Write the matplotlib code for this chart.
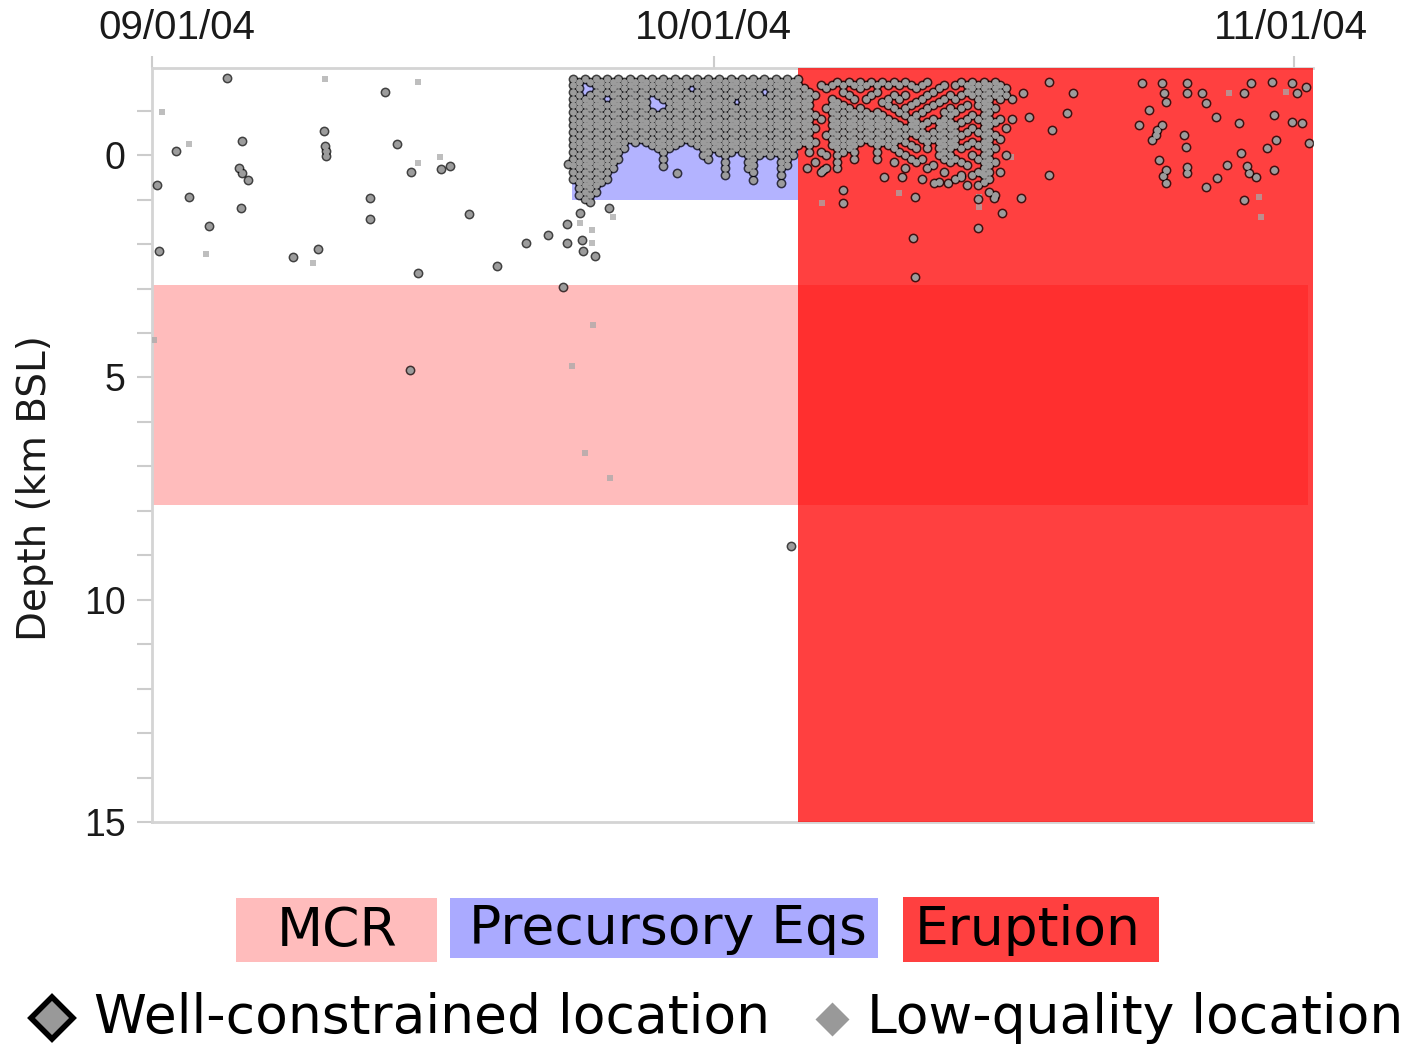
import matplotlib
matplotlib.use("Agg")
import matplotlib.pyplot as plt
from matplotlib.patches import Rectangle
from matplotlib.lines import Line2D

# ---------------- data (x = days since 2004-09-01, y = depth km BSL) ----------------
date_ticks = [0, 30, 61]
date_labels = ["09/01/04", "10/01/04", "11/01/04"]
depth_major = [0, 5, 10, 15]
depth_minor = list(range(-1, 16))

mcr_span = (0.0, 61.72)          # magma chamber region (days)
mcr_depth = (2.92, 7.87)
precursor_span = (22.42, 34.5)
precursor_depth = (-1.69, 1.01)
eruption_span = (34.5, 62.0)

# isolated well-constrained events
well_events = [
    (4.00, -1.73), (12.43, -1.42), (9.18, -0.54), (4.80, -0.31), (1.28, -0.09),
    (9.23, -0.20), (9.28, -0.09), (9.28, 0.02), (13.07, -0.25), (4.64, 0.29),
    (4.80, 0.40), (5.12, 0.56), (13.82, 0.38), (15.42, 0.31), (15.90, 0.25),
    (0.27, 0.67), (1.97, 0.94), (4.75, 1.19), (11.63, 0.97), (11.63, 1.44),
    (16.92, 1.33), (3.04, 1.60), (0.37, 2.16), (7.52, 2.29), (8.86, 2.11),
    (14.19, 2.65), (18.41, 2.50), (19.96, 1.98), (21.13, 1.80), (22.15, 1.55),
    (22.15, 1.98), (21.93, 2.97), (22.84, 1.30), (22.95, 1.91), (23.00, 2.16),
    (23.64, 2.27), (22.20, 0.20), (24.39, 1.19), (13.77, 4.83), (34.10, 8.79),
    (28.02, 0.40), (27.3, 0.25), (30.6, 0.45), (32.1, 0.55), (33.6, 0.62),
    # eruption, scattered
    (34.95, 0.29), (35.81, 0.34), (36.87, 0.79), (36.87, 1.08), (39.11, 0.49),
    (40.02, 0.49), (40.72, 0.94), (40.61, 1.87), (40.72, 2.74), (41.78, 0.63),
    (42.48, 0.63), (43.22, 0.49), (44.34, 0.40), (44.98, 0.97), (46.42, 0.97),
    (45.36, 1.30), (44.08, 1.64), (46.48, -1.39), (46.85, -0.85), (47.92, -1.64),
    (49.15, -1.39), (48.83, -0.94), (48.03, -0.56), (47.92, 0.45),
    # late October cluster
    (52.88, -1.62), (53.95, -1.62), (54.06, -1.39), (54.16, -1.19), (55.28, -1.62),
    (55.28, -1.39), (56.08, -1.39), (56.30, -1.17), (56.83, -0.85), (53.26, -1.01),
    (52.72, -0.67), (53.68, -0.56), (53.42, -0.34), (53.95, -0.67), (55.12, -0.45),
    (55.23, -0.18), (53.79, 0.11), (54.16, 0.34), (54.16, 0.63), (55.28, 0.27),
    (55.28, 0.40), (56.30, 0.72), (56.88, 0.52), (57.42, 0.22), (58.06, -0.72),
    (58.32, -1.39), (58.70, -1.62), (58.16, -0.04), (58.59, 0.40), (58.96, 0.49),
    (58.32, 1.01), (59.82, -1.64), (59.93, -0.90), (60.03, -0.34), (59.55, -0.16),
    (59.93, 0.34), (60.89, -1.62), (61.15, -1.39), (60.89, -0.74), (61.42, -0.72),
    (61.79, -0.27), (61.63, -1.53), (58.45, 0.25), (53.6, -0.45), (54.0, 0.48),
]

# low-quality events
low_events = [
    (9.23, -1.71), (14.19, -1.64), (0.53, -0.97), (1.97, -0.25), (14.19, 0.18),
    (15.37, 0.04), (2.88, 2.23), (8.59, 2.43), (22.84, 1.53), (23.48, 1.69),
    (23.48, 1.98), (0.11, 4.16), (23.53, 3.82), (22.41, 4.74), (23.11, 6.70),
    (24.44, 7.26), (24.60, 1.39), (35.75, 1.08), (39.91, 0.85), (44.18, 0.94),
    (44.18, 1.17), (45.89, 0.04), (57.52, -1.39), (59.12, 0.94), (59.23, 1.39),
    (60.57, -1.42),
]

# dense precursory swarm: event days and the depths recorded on each of them
swarm_days = [22.5, 22.8, 23.1, 23.4, 23.7, 24.0, 24.3, 24.6, 24.9, 25.2, 25.5,
              25.8, 26.1, 26.4, 26.7, 27.0, 27.3, 27.6, 27.9, 28.2, 28.5, 28.8,
              29.1, 29.4, 29.7, 30.0, 30.3, 30.6, 30.9, 31.2, 31.5, 31.8, 32.1,
              32.4, 32.7, 33.0, 33.3, 33.6, 33.9, 34.2, 34.5, 34.8, 35.1]
swarm_depths = [
    [-1.72, -1.57, -1.42, -1.27, -1.12, -0.97, -0.82, -0.67, -0.52, -0.37, -0.22, -0.07, 0.08, 0.23, 0.38, 0.53],
    [-1.65, -1.50, -1.35, -1.20, -1.05, -0.90, -0.75, -0.60, -0.45, -0.30, -0.15, 0.00, 0.15, 0.30, 0.45, 0.60, 0.75, 0.90],
    [-1.72, -1.27, -1.12, -0.97, -0.82, -0.67, -0.52, -0.37, -0.22, -0.07, 0.08, 0.23, 0.38, 0.53, 0.68, 0.83, 0.98],
    [-1.65, -1.35, -1.20, -1.05, -0.90, -0.75, -0.60, -0.45, -0.30, -0.15, 0.00, 0.15, 0.30, 0.45, 0.60, 0.75, 0.90, 1.05],
    [-1.72, -1.57, -1.42, -1.27, -1.12, -0.97, -0.82, -0.67, -0.52, -0.37, -0.22, -0.07, 0.08, 0.23, 0.38, 0.53, 0.68, 0.83],
    [-1.65, -1.50, -1.35, -1.20, -1.05, -0.90, -0.75, -0.60, -0.45, -0.30, -0.15, 0.00, 0.15, 0.30, 0.45, 0.60],
    [-1.72, -1.57, -1.42, -1.12, -0.97, -0.82, -0.67, -0.52, -0.37, -0.22, -0.07, 0.08, 0.23, 0.38, 0.53],
    [-1.65, -1.50, -1.35, -1.20, -1.05, -0.90, -0.75, -0.60, -0.45, -0.30, -0.15, 0.00, 0.15, 0.30],
    [-1.72, -1.57, -1.42, -1.27, -1.12, -0.97, -0.82, -0.67, -0.52, -0.37, -0.22, -0.07, 0.08],
    [-1.65, -1.50, -1.35, -1.20, -1.05, -0.90, -0.75, -0.60, -0.45, -0.30, -0.15],
    [-1.72, -1.57, -1.42, -1.27, -1.12, -0.97, -0.82, -0.67, -0.52, -0.37],
    [-1.65, -1.50, -1.35, -1.20, -1.05, -0.90, -0.75, -0.60, -0.45, -0.30],
    [-1.72, -1.57, -1.42, -1.27, -1.12, -0.97, -0.82, -0.67, -0.52, -0.37],
    [-1.65, -1.50, -1.35, -1.20, -1.05, -0.90, -0.75, -0.60, -0.45, -0.30],
    [-1.72, -1.57, -1.42, -0.97, -0.82, -0.67, -0.52, -0.37, -0.22],
    [-1.65, -1.50, -1.35, -0.90, -0.75, -0.60, -0.45, -0.30, -0.15],
    [-1.72, -1.57, -1.42, -1.27, -0.97, -0.82, -0.67, -0.52, -0.37, -0.22, -0.07, 0.08],
    [-1.65, -1.50, -1.35, -1.20, -1.05, -0.90, -0.75, -0.60, -0.45, -0.30, -0.15],
    [-1.72, -1.57, -1.42, -1.27, -1.12, -0.97, -0.82, -0.67, -0.52, -0.37, -0.22],
    [-1.65, -1.50, -1.35, -1.20, -1.05, -0.90, -0.75, -0.60, -0.45, -0.30],
    [-1.72, -1.57, -1.42, -1.27, -1.12, -0.97, -0.82, -0.67, -0.52, -0.37],
    [-1.65, -1.35, -1.20, -1.05, -0.90, -0.75, -0.60, -0.45, -0.30],
    [-1.72, -1.57, -1.42, -1.27, -1.12, -0.97, -0.82, -0.67, -0.52, -0.37, -0.22],
    [-1.65, -1.50, -1.35, -1.20, -1.05, -0.90, -0.75, -0.60, -0.45, -0.30, -0.15, 0.00],
    [-1.72, -1.57, -1.42, -1.27, -1.12, -0.97, -0.82, -0.67, -0.52, -0.37, -0.22, -0.07, 0.08],
    [-1.65, -1.50, -1.35, -1.20, -1.05, -0.90, -0.75, -0.60, -0.45, -0.30, -0.15],
    [-1.72, -1.57, -1.42, -1.27, -1.12, -0.97, -0.82, -0.67, -0.52, -0.37, -0.22, -0.07],
    [-1.65, -1.50, -1.35, -1.20, -1.05, -0.90, -0.75, -0.60, -0.45, -0.30, -0.15, 0.00, 0.15, 0.30],
    [-1.72, -1.57, -1.42, -1.27, -1.12, -0.97, -0.82, -0.67, -0.52, -0.37, -0.22, -0.07],
    [-1.65, -1.50, -1.35, -1.05, -0.90, -0.75, -0.60, -0.45, -0.30, -0.15],
    [-1.72, -1.57, -1.42, -1.27, -1.12, -0.97, -0.82, -0.67, -0.52, -0.37, -0.22, -0.07],
    [-1.65, -1.50, -1.35, -1.20, -1.05, -0.90, -0.75, -0.60, -0.45, -0.30, -0.15, 0.00, 0.15, 0.30],
    [-1.72, -1.57, -1.42, -1.27, -1.12, -0.97, -0.82, -0.67, -0.52, -0.37, -0.22, -0.07, 0.08, 0.23, 0.38],
    [-1.65, -1.50, -1.35, -1.20, -1.05, -0.90, -0.75, -0.60, -0.45, -0.30, -0.15, 0.00],
    [-1.72, -1.57, -1.27, -1.12, -0.97, -0.82, -0.67, -0.52, -0.37, -0.22, -0.07],
    [-1.65, -1.50, -1.35, -1.20, -1.05, -0.90, -0.75, -0.60, -0.45, -0.30, -0.15, 0.00],
    [-1.72, -1.57, -1.42, -1.27, -1.12, -0.97, -0.82, -0.67, -0.52, -0.37, -0.22, -0.07],
    [-1.65, -1.50, -1.35, -1.20, -1.05, -0.90, -0.75, -0.60, -0.45, -0.30, -0.15, 0.00, 0.15, 0.30, 0.45],
    [-1.72, -1.57, -1.42, -1.27, -1.12, -0.97, -0.82, -0.67, -0.52, -0.37, -0.22, -0.07, 0.08, 0.23],
    [-1.65, -1.50, -1.35, -1.20, -1.05, -0.90, -0.75, -0.60, -0.45, -0.30, -0.15, 0.00],
    [-1.72, -1.57, -1.42, -1.27, -1.12, -0.97, -0.82, -0.67, -0.52, -0.37, -0.22],
    [-1.50, -1.35, -1.20, -1.05, -0.90, -0.75, -0.60, -0.45, -0.30],
    [-1.42, -1.27, -1.12, -0.97, -0.82, -0.67, -0.52, -0.37, -0.22, -0.07],
]

# dense eruption swarm (early October)
erupt_days = [35.4, 35.7, 36.0, 36.3, 36.6, 36.9, 37.2, 37.5, 37.8, 38.1, 38.4,
              38.7, 39.0, 39.3, 39.6, 39.9, 40.2, 40.5, 40.8, 41.1, 41.4, 41.7,
              42.0, 42.3, 42.6, 42.9, 43.2, 43.5, 43.8, 44.1, 44.4, 44.7, 45.0,
              45.3, 45.6, 45.9]
erupt_depths = [
    [-1.35, -0.90, -0.60, -0.30, 0.15],
    [-1.57, -0.82, -0.07, 0.38],
    [-1.50, -1.05, -0.45, 0.00, 0.30],
    [-1.57, -1.27, -1.12, -0.97, -0.82, -0.67, -0.52, -0.37, -0.22],
    [-1.65, -1.20, -1.05, -0.90, -0.75, -0.60, -0.45, -0.30, -0.15, 0.00, 0.15, 0.30],
    [-1.57, -1.42, -1.12, -0.97, -0.82, -0.67, -0.52, -0.37, -0.22, -0.07],
    [-1.65, -1.35, -1.05, -0.90, -0.75, -0.60, -0.45, -0.30, -0.15],
    [-1.57, -1.27, -0.97, -0.82, -0.67, -0.52, -0.37, -0.22, -0.07, 0.08],
    [-1.65, -1.50, -1.05, -0.90, -0.75, -0.60, -0.45, -0.30],
    [-1.57, -1.27, -0.97, -0.82, -0.67, -0.52, -0.37],
    [-1.65, -1.35, -0.90, -0.75, -0.60, -0.45, -0.30],
    [-1.57, -1.42, -0.97, -0.82, -0.67, -0.52, -0.37, -0.22, -0.07, 0.08],
    [-1.65, -1.20, -0.90, -0.75, -0.60, -0.45, -0.30],
    [-1.57, -1.27, -1.12, -0.82, -0.67, -0.52, -0.37, -0.22],
    [-1.65, -1.35, -1.05, -0.75, -0.60, -0.45, -0.30, -0.15, 0.15],
    [-1.57, -1.27, -0.97, -0.67, -0.52, -0.37, -0.07],
    [-1.65, -1.35, -1.05, -0.90, -0.60, -0.45, -0.30, 0.00, 0.30],
    [-1.57, -1.12, -0.82, -0.67, -0.52, -0.22, 0.08],
    [-1.50, -1.20, -0.90, -0.75, -0.60, -0.45, -0.15, 0.15],
    [-1.57, -1.27, -0.97, -0.67, -0.52, -0.37, 0.08, 0.53],
    [-1.65, -1.35, -1.05, -0.75, -0.45, -0.30, -0.15, 0.30],
    [-1.42, -1.12, -0.82, -0.52, -0.37, 0.23],
    [-1.50, -1.20, -0.75, -0.60, -0.45, -0.30, -0.15, 0.00, 0.60],
    [-1.57, -1.27, -0.97, -0.82, -0.67, -0.52, -0.37, -0.22, -0.07, 0.08, 0.38],
    [-1.35, -1.05, -0.90, -0.75, -0.60, -0.45, -0.30, -0.15, 0.00, 0.15],
    [-1.57, -1.27, -0.97, -0.67, -0.52, -0.37, -0.22, 0.08, 0.53],
    [-1.65, -1.35, -1.05, -0.75, -0.45, -0.15, 0.15, 0.45],
    [-1.57, -1.42, -1.12, -0.82, -0.52, -0.22, 0.23, 0.68],
    [-1.65, -1.50, -1.35, -0.90, -0.60, -0.30, 0.00, 0.45],
    [-1.57, -1.42, -1.27, -1.12, -0.82, -0.52, -0.22, 0.08, 0.38, 0.68, 0.98],
    [-1.65, -1.50, -1.35, -1.20, -1.05, -0.90, -0.75, -0.60, -0.45, -0.30, -0.15, 0.00, 0.15, 0.30, 0.45, 0.60],
    [-1.57, -1.42, -1.27, -1.12, -0.97, -0.82, -0.67, -0.52, -0.37, -0.22, -0.07, 0.08, 0.23, 0.38, 0.53, 0.83],
    [-1.65, -1.50, -1.35, -1.05, -0.75, -0.45, -0.15, 0.15, 0.90],
    [-1.57, -1.42, -1.27, -0.82, -0.37, 0.38],
    [-1.50, -1.35, -0.60, 0.00],
    [-1.27, -0.82],
]

legend_regions = ["MCR", "Precursory Eqs", "Eruption"]
legend_markers = ["Well-constrained location", "Low-quality location"]

# ---------------- styling ----------------
PINK = "#ffbcbc"
BLUE = "#b3b3ff"
BLUE_LEG = "#aaaaff"
RED_LEG = "#ff4040"
EDGE_S = 50.0    # outer dark disc (points^2)
FILL_S = 24.0    # inner grey disc (points^2)

W, H = 1415, 1048
fig = plt.figure(figsize=(W / 100, H / 100), dpi=100)
ax = fig.add_axes([152 / W, 1 - 822 / H, (1313 - 152) / W, (822 - 68) / H])
ax.set_xlim(0, 61.99)
ax.set_ylim(15, -1.96)

# background regions
ax.add_patch(Rectangle((mcr_span[0], mcr_depth[0]), mcr_span[1] - mcr_span[0],
                       mcr_depth[1] - mcr_depth[0], fc=PINK, ec="none", zorder=1))
ax.add_patch(Rectangle((precursor_span[0], precursor_depth[0]),
                       precursor_span[1] - precursor_span[0],
                       precursor_depth[1] - precursor_depth[0], fc=BLUE, ec="none", zorder=1))
ax.add_patch(Rectangle((eruption_span[0], -1.96), eruption_span[1] - eruption_span[0],
                       15 + 1.96, fc=(1, 0, 0), alpha=0.75, ec="none", zorder=2.6))

# assemble well-constrained events
wx = [d for d, _ in well_events]
wy = [z for _, z in well_events]
for days, depths in ((swarm_days, swarm_depths), (erupt_days, erupt_depths)):
    for d, col in zip(days, depths):
        for z in col:
            wx.append(d)
            wy.append(z)

lx = [d for d, _ in low_events]
ly = [z for _, z in low_events]

ax.scatter(lx, ly, s=14, marker="s", c="#a8a8a8", alpha=0.75, linewidths=0, zorder=3)
ax.scatter(wx, wy, s=EDGE_S, marker="o", c="black", alpha=0.75, linewidths=0, zorder=4)
ax.scatter(wx, wy, s=FILL_S, marker="o", c="#9c9c9c", linewidths=0, zorder=5)

# axes styling
for side in ("left", "top", "bottom"):
    ax.spines[side].set_color("#d4d4d4")
    ax.spines[side].set_linewidth(2)
ax.spines["right"].set_visible(False)

ax.xaxis.tick_top()
ax.set_xticks(date_ticks)
ax.set_xticklabels([])
ax.tick_params(axis="x", which="both", length=9, width=1.5, color="#cccccc")
offsets = [25, 0, -4]
for d, lab, off in zip(date_ticks, date_labels, offsets):
    ax.annotate(lab, xy=(d, 1), xycoords=("data", "axes fraction"),
                xytext=(off * 0.72, 29), textcoords="offset points",
                ha="center", va="center", fontsize=29, family="Liberation Sans",
                color="#1a1a1a", annotation_clip=False)

ax.set_yticks(depth_major)
ax.set_yticks(depth_minor, minor=True)
ax.set_yticklabels([str(v) for v in depth_major], fontsize=27,
                   family="Liberation Sans", color="#1a1a1a")
ax.tick_params(axis="y", which="both", length=11, width=1.5, color="#cccccc", pad=8)
ax.set_ylabel("Depth (km BSL)", fontsize=28, family="DejaVu Sans", color="#1a1a1a")
ax.yaxis.set_label_coords((54 - 152) / 1161, 1 - (488 - 68) / 754)

# ---------------- legend (figure coordinates) ----------------
def fx(x):
    return x / W


def fy(y):
    return 1 - y / H


boxes = [(236, 437, 898, 962, PINK, 337), (450, 878, 898, 958, BLUE_LEG, 668),
         (903, 1159, 897, 962, RED_LEG, 1028)]
for (x0, x1, y0, y1, col, tx), lab in zip(boxes, legend_regions):
    fig.patches.append(Rectangle((fx(x0), fy(y1)), fx(x1) - fx(x0), fy(y0) - fy(y1),
                                 transform=fig.transFigure, fc=col, ec="none"))
    fig.text(fx(tx), fy((y0 + y1) / 2 + 1), lab, ha="center", va="center",
             fontsize=38.5, family="DejaVu Sans", color="black")

fig.add_artist(Line2D([fx(52)], [fy(1018)], transform=fig.transFigure, marker="D",
                      markersize=21, markerfacecolor="#999999", markeredgecolor="black",
                      markeredgewidth=4, linestyle="none"))
fig.text(fx(94), fy(1018), legend_markers[0], ha="left", va="center",
         fontsize=38.5, family="DejaVu Sans", color="black")
fig.add_artist(Line2D([fx(832)], [fy(1019)], transform=fig.transFigure, marker="D",
                      markersize=17, markerfacecolor="#999999", markeredgecolor="none",
                      linestyle="none"))
fig.text(fx(867), fy(1018), legend_markers[1], ha="left", va="center",
         fontsize=38.5, family="DejaVu Sans", color="black")

fig.savefig("out.png", dpi=100, facecolor="white")
